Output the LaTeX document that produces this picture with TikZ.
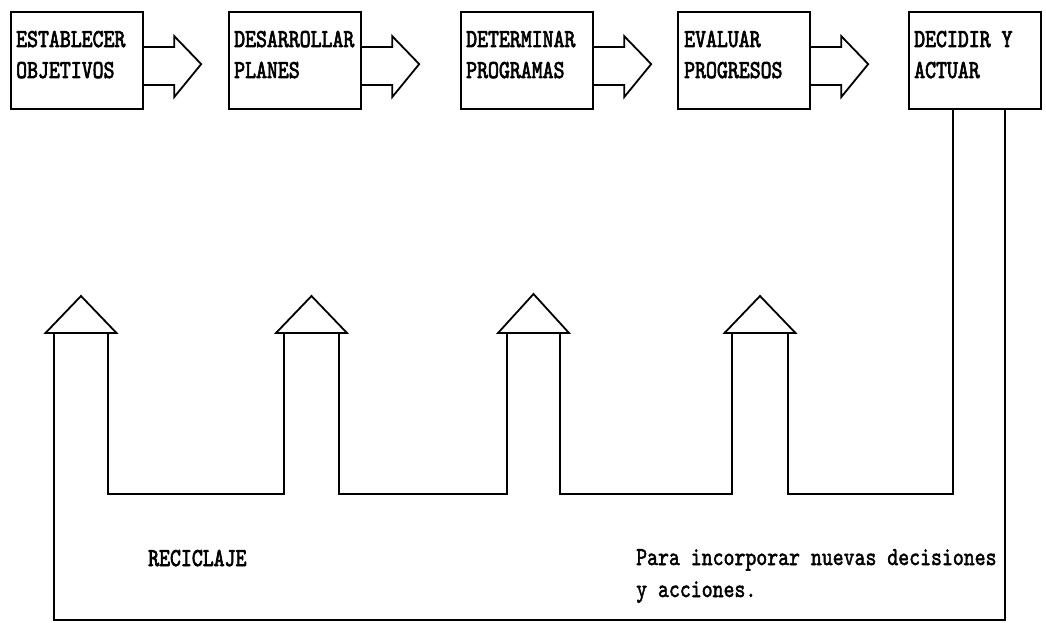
\documentclass[tikz,border=0pt]{standalone}
\usepackage{fontspec}
\usepackage{graphicx}
\newfontfamily\heavytt[FakeBold=3]{lmmono10-regular.otf}
\newfontfamily\semitt[FakeBold=2]{lmmono10-regular.otf}
\newcommand{\tallt}[1]{\scalebox{1}[1.24]{#1}}
\begin{document}
\begin{tikzpicture}[x=1pt,y=-1pt,
  box/.style={draw,line width=2.2pt,minimum width=132pt,minimum height=97pt,inner sep=0pt,anchor=north west},
  lbl/.style={font=\heavytt\fontsize{20.8}{24}\selectfont,inner sep=0pt,anchor=base west},
  note/.style={font=\semitt\fontsize{20.8}{24}\selectfont,inner sep=0pt,anchor=base west},
  ln/.style={line width=1.8pt,line join=miter},
  blk/.style={line width=1.8pt,line join=miter}]
\useasboundingbox[fill=white] (0,0) rectangle (1046,623);

% boxes
\node[box] (b1) at (10,11) {};
\node[box] (b2) at (228,11) {};
\node[box] (b3) at (460,11) {};
\node[box] (b4) at (677,11) {};
\node[box] (b5) at (908,11) {};

% box texts
\node[lbl] (t1a) at (16,47) {\tallt{ESTABLECER}};
\node[lbl] (t1b) at (16,78) {\tallt{OBJETIVOS}};
\node[lbl] (t2a) at (234,47) {\tallt{DESARROLLAR}};
\node[lbl] (t2b) at (234,78) {\tallt{PLANES}};
\node[lbl] (t3a) at (466,47) {\tallt{DETERMINAR}};
\node[lbl] (t3b) at (466,78) {\tallt{PROGRAMAS}};
\node[lbl] (t4a) at (684,47) {\tallt{EVALUAR}};
\node[lbl] (t4b) at (684,78) {\tallt{PROGRESOS}};
\node[lbl] (t5a) at (914,47) {\tallt{DECIDIR Y}};
\node[lbl] (t5b) at (914,78) {\tallt{ACTUAR}};

% block arrows
\foreach \b in {b1,b2,b3,b4}{
  \draw[blk] ([yshift=13.5pt]\b.east) -- ++(30,0) -- ++(0,-11) -- ++(27,28)
     -- ++(-27,33) -- ++(0,-12) -- ([yshift=-24.5pt]\b.east);
}

% tower coordinates
\coordinate (u1l) at (54,333);  \coordinate (u1r) at (108,333);
\coordinate (u2l) at (284,333); \coordinate (u2r) at (339,333);
\coordinate (u3l) at (507,333); \coordinate (u3r) at (560,333);
\coordinate (u4l) at (732,333); \coordinate (u4r) at (788,333);
\coordinate (v1r) at (108,494);
\coordinate (v2l) at (284,494); \coordinate (v2r) at (339,494);
\coordinate (v3l) at (507,494); \coordinate (v3r) at (560,494);
\coordinate (v4l) at (732,494); \coordinate (v4r) at (788,494);
\coordinate (w1) at (54,620);
\coordinate (d1) at ([xshift=45pt]b5.south west);
\coordinate (d2) at ([xshift=97pt]b5.south west);

% triangles
\coordinate (a1) at (81,296);    \coordinate (a1l) at (45.5,333);  \coordinate (a1r) at (116.5,333);
\coordinate (a2) at (311.5,296); \coordinate (a2l) at (276,333);   \coordinate (a2r) at (347,333);
\coordinate (a3) at (533.5,294); \coordinate (a3l) at (498,333);   \coordinate (a3r) at (569,333);
\coordinate (a4) at (760,296);   \coordinate (a4l) at (724.5,333); \coordinate (a4r) at (795.5,333);
\foreach \i in {1,2,3,4}{
  \draw[ln] (a\i l) -- (a\i) -- (a\i r) -- cycle;
}

% feedback path
\draw[ln] (d1) |- (v4r) -- (u4r);
\draw[ln] (u4l) -- (v4l) -- (v3r) -- (u3r);
\draw[ln] (u3l) -- (v3l) -- (v2r) -- (u2r);
\draw[ln] (u2l) -- (v2l) -- (v1r) -- (u1r);
\draw[ln] (u1l) -- (w1) -| (d2);

% texts
\node[lbl] (rec) at (148,566) {\tallt{RECICLAJE}};
\node[note] (p1) at (636,565) {\tallt{Para incorporar nuevas decisiones}};
\node[note] (p2) at (636,597) {\tallt{y acciones.}};
\end{tikzpicture}
\end{document}
